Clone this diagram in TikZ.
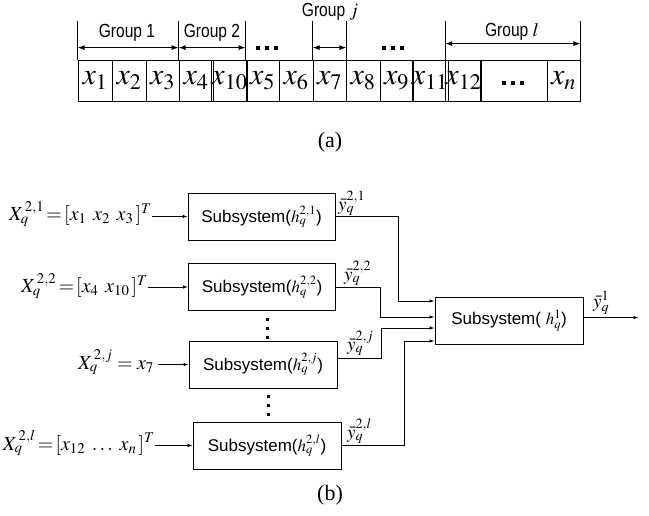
\RequirePackage{fix-cm}
\documentclass[tikz,border=0pt]{standalone}
\usepackage{mathptmx}
\usepackage[no-math]{fontspec}
\setmainfont{Liberation Serif}
\newfontfamily\sansf{Liberation Sans}
\newfontfamily\grpf[FakeStretch=0.82]{Liberation Sans}
\usetikzlibrary{arrows.meta,calc}
\begin{document}
\begin{tikzpicture}[x=1pt,y=-1pt,
  cell/.style={draw,line width=0.8pt,minimum height=41pt,inner sep=0pt,font=\fontsize{30}{32}\selectfont},
  subbox/.style={draw,line width=1pt,minimum width=147pt,minimum height=47pt,inner sep=0pt,font=\sansf\fontsize{17}{19}\selectfont},
  lbl/.style={inner sep=0pt,font=\fontsize{20}{22}\selectfont},
  ylbl/.style={inner sep=0pt,font=\fontsize{19}{20}\selectfont},
  grp/.style={inner sep=0pt,font=\grpf\fontsize{19}{20}\selectfont},
  captxt/.style={inner sep=0pt,font=\fontsize{22}{24}\selectfont},
  tick/.style={line width=0.8pt},
  darr/.style={{Latex[length=7pt,width=5pt]}-{Latex[length=7pt,width=5pt]},line width=1pt},
  arr/.style={-{Latex[length=5pt,width=3.5pt]},line width=0.8pt}]
\useasboundingbox (0,0) rectangle (649,515);
% ---------- (a) ----------
\foreach \a/\b/\t/\n in {78/112/x_1/c1,112/146/x_2/c2,146/179/x_3/c3,179/213/x_4/c4,213/246/x_{10}/c5,246/279/x_5/c6,279/313/x_6/c7,313/346/x_7/c8,346/380/x_8/c9,380/413/x_9/c10,413/447/x_{11}/c11,447/480/x_{12}/c12,480/547/{}/c13,547/580/x_n/c14}
  \node[cell,minimum width={\b-\a}] (\n) at ({(\a+\b)/2},80.5) {$\t$};
\foreach \xx in {-9,0,9} \fill ({513+\xx-2},81) rectangle ++(4,4);
% ticks
\foreach \c in {c1.north west,c4.north west,c6.north west,c8.north west,c8.north east,c12.north west,c14.north east}
  \draw[tick] (\c) -- ++(0,-39);
\draw[darr] ($(c1.north west)+(0,-12)$) -- ($(c4.north west)+(0,-12)$);
\draw[darr] ($(c4.north west)+(0,-12)$) -- ($(c6.north west)+(0,-12)$);
\draw[darr] ($(c8.north west)+(0,-12)$) -- ($(c8.north east)+(0,-12)$);
\draw[darr] ($(c12.north west)+(0,-16)$) -- ($(c14.north east)+(0,-16)$);
\foreach \xx in {-9,0,9} \fill ({267+\xx-2},46) rectangle ++(4,4);
\foreach \xx in {-9,0,9} \fill ({393+\xx-2},46) rectangle ++(4,4);
\node[grp] (g1) at (127,33) {Group 1};
\node[grp] (g2) at (212,33) {Group 2};
\node[grp] (gj) at (330,12) {Group $j$};
\node[grp] (gl) at (512,32) {Group $l$};
\node[captxt] (la) at (330,142) {(a)};
% ---------- (b) ----------
\node[subbox] (b1) at (261.5,216.5) {Subsystem($h_q^{2,1}$)};
\node[subbox] (b2) at (262,287) {Subsystem($h_q^{2,2}$)};
\node[subbox,minimum width=148pt] (bj) at (263,364.5) {Subsystem($h_q^{2,j}$)};
\node[subbox,minimum width=148pt] (bl) at (267,445.5) {Subsystem($h_q^{2,l}$)};
\node[subbox,minimum width=148pt] (h) at (509,320.5) {Subsystem( $h_q^{1}$)};
% inputs
\node[lbl,anchor=east] (x1) at (152,214) {$X_q^{\,2,1}\!=\![x_1\;\, x_2\;\, x_3\,]^T$};
\node[lbl,anchor=east] (x2) at (148,286) {$X_q^{\,2,2}\!=\![x_4\;\, x_{10}\,]^T$};
\node[lbl,anchor=east] (xj) at (154,362) {$X_q^{\,2,j}=x_7$};
\node[lbl,anchor=east] (xl) at (155,443) {$X_q^{\,2,l}\!=\![x_{12}\;\ldots\; x_n\,]^T$};
\draw[arr] (x1.east |- b1.west) -- (b1.west);
\draw[arr] (x2.east |- b2.west) -- (b2.west);
\draw[arr] ([xshift=4pt]xj.east |- bj.west) -- (bj.west);
\draw[arr] (xl.east |- bl.west) -- (bl.west);
% vertical dots
\foreach \yy in {319,328,337} \fill ({267-1.5},{\yy-1.5}) rectangle ++(3,3);
\foreach \yy in {396,405,414} \fill ({268-1.5},{\yy-1.5}) rectangle ++(3,3);
% outputs
\node[ylbl,anchor=south west] (y1) at (338,216) {$\bar{y}_q^{2,1}$};
\node[ylbl,anchor=south west] (y2) at (344,286) {$\bar{y}_q^{2,2}$};
\node[ylbl,anchor=south west] (yj) at (347,356) {$\bar{y}_q^{2,j}$};
\node[ylbl,anchor=south west] (yl) at (347,444) {$\bar{y}_q^{2,l}$};
\node[ylbl,anchor=south west] (yo) at (593,315) {$\bar{y}_q^{1}$};
\draw[arr] (b1.east) -- ++(63,0) |- (h.west |- 0,301);
\draw[arr] (b2.east) -- ++(44,0) |- (h.west |- 0,317);
\draw[arr] (bj.east |- 0,358) -- ++(44,0) |- (h.west |- 0,328);
\draw[arr] (bl.east) -- ++(63,0) |- (h.west |- 0,341);
\coordinate (out) at ($(h.east)+(55,-3)$);
\draw[arr] (h.east |- out) -- (out);
\node[captxt] (lb) at (330,495) {(b)};
\end{tikzpicture}
\end{document}
